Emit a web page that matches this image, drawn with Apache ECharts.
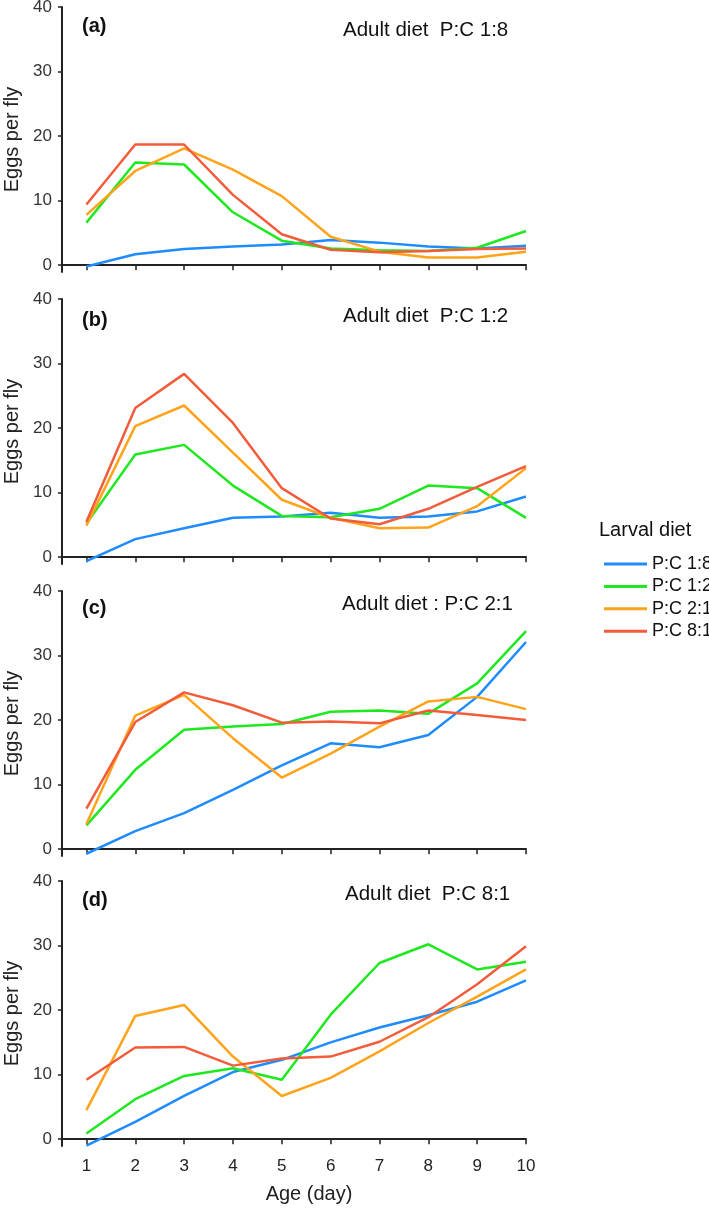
<!DOCTYPE html>
<html>
<head>
<meta charset="utf-8">
<script src="https://cdn.jsdelivr.net/npm/echarts@6/dist/echarts.min.js"></script>
<style>
html,body{margin:0;padding:0;background:#fff;}
#chart{width:709px;height:1208px;}
</style>
</head>
<body>
<div id="chart"></div>
<script>
const days = [1, 2, 3, 4, 5, 6, 7, 8, 9, 10];
const yTicks = [0, 10, 20, 30, 40];
const larvalDiets = ['P:C 1:8', 'P:C 1:2', 'P:C 2:1', 'P:C 8:1'];
const panelLabels = ['(a)', '(b)', '(c)', '(d)'];
const adultDiets = ['Adult diet  P:C 1:8', 'Adult diet  P:C 1:2', 'Adult diet : P:C 2:1', 'Adult diet  P:C 8:1'];

// Panel (a) adult diet P:C 1:8
const a_pc18 = [-0.2, 1.7, 2.5, 2.9, 3.2, 3.9, 3.5, 2.9, 2.6, 3.0];
const a_pc12 = [6.6, 15.9, 15.6, 8.2, 3.8, 2.6, 2.3, 2.2, 2.7, 5.3];
const a_pc21 = [7.8, 14.6, 18.1, 14.8, 10.7, 4.4, 2.1, 1.2, 1.2, 2.1];
const a_pc81 = [9.4, 18.7, 18.7, 10.9, 4.8, 2.4, 2.0, 2.2, 2.5, 2.6];
// Panel (b) adult diet P:C 1:2
const b_pc18 = [-0.6, 2.8, 4.5, 6.1, 6.3, 6.9, 6.1, 6.3, 7.1, 9.4];
const b_pc12 = [5.2, 15.9, 17.4, 11.1, 6.4, 6.2, 7.5, 11.1, 10.7, 6.1];
const b_pc21 = [4.9, 20.3, 23.5, 16.2, 8.9, 6.1, 4.5, 4.6, 7.9, 13.8];
const b_pc81 = [5.5, 23.1, 28.4, 20.8, 10.7, 6.0, 5.1, 7.5, 10.9, 14.1];
// Panel (c) adult diet P:C 2:1
const c_pc18 = [-0.7, 2.8, 5.6, 9.2, 13.0, 16.4, 15.8, 17.7, 23.6, 32.1];
const c_pc12 = [3.7, 12.3, 18.5, 19.0, 19.4, 21.3, 21.5, 21.0, 25.7, 33.8];
const c_pc21 = [3.9, 20.7, 23.9, 17.2, 11.1, 14.8, 19.0, 22.9, 23.6, 21.7];
const c_pc81 = [6.3, 19.7, 24.3, 22.3, 19.6, 19.8, 19.5, 21.5, 20.8, 20.0];
// Panel (d) adult diet P:C 8:1
const d_pc18 = [-1.0, 2.7, 6.7, 10.4, 12.3, 15.0, 17.3, 19.2, 21.3, 24.6];
const d_pc12 = [0.9, 6.2, 9.8, 11.0, 9.2, 19.3, 27.3, 30.2, 26.3, 27.5];
const d_pc21 = [4.5, 19.1, 20.8, 12.8, 6.7, 9.5, 13.6, 18.0, 22.1, 26.3];
const d_pc81 = [9.2, 14.2, 14.3, 11.4, 12.5, 12.8, 15.1, 18.9, 24.0, 29.9];

const panels = [
  [a_pc18, a_pc12, a_pc21, a_pc81],
  [b_pc18, b_pc12, b_pc21, b_pc81],
  [c_pc18, c_pc12, c_pc21, c_pc81],
  [d_pc18, d_pc12, d_pc21, d_pc81]
];

const colors = ['#1e8cff', '#1ee81e', '#ffa31a', '#f25c3a'];
const gridTops = [7, 299, 591, 881];
const gridH = 265, gridLeft = 62, gridW = 464;
const FONT = 'Liberation Sans, Arial, Helvetica, sans-serif';

const grids = [], xAxes = [], yAxes = [], series = [], graphics = [];
gridTops.forEach((top, i) => {
  grids.push({left: gridLeft, top: top, width: gridW, height: gridH, containLabel: false, outerBoundsMode: 'none'});
  const last = i === 3;
  xAxes.push({
    type: 'value', gridIndex: i, min: 0.5, max: 10,
    axisLine: {show: true, lineStyle: {color: '#222', width: 2}},
    axisTick: {show: true, customValues: days, length: 5, lineStyle: {color: '#222', width: 1.5}},
    axisLabel: {show: last, customValues: days, color: '#222', fontSize: 17, fontFamily: FONT, margin: 12},
    splitLine: {show: false},
    name: last ? 'Age (day)' : '', nameLocation: 'middle', nameGap: 38,
    nameTextStyle: {color: '#222', fontSize: 20, fontFamily: FONT, padding: [0, 0, 0, 30]}
  });
  yAxes.push({
    type: 'value', gridIndex: i, min: -1.05, max: 40,
    axisLine: {show: true, lineStyle: {color: '#222', width: 2}},
    axisTick: {show: true, customValues: yTicks, length: 4, lineStyle: {color: '#222', width: 1.5}},
    axisLabel: {customValues: yTicks, color: '#333', fontSize: 17, fontFamily: FONT, margin: 10},
    splitLine: {show: false},
    name: 'Eggs per fly', nameLocation: 'middle', nameGap: 38,
    nameTextStyle: {color: '#222', fontSize: 20, fontFamily: FONT}
  });
  panels[i].forEach((vals, k) => {
    series.push({
      type: 'line', name: larvalDiets[k], xAxisIndex: i, yAxisIndex: i,
      data: days.map((d, j) => [d, vals[j]]),
      showSymbol: false, symbol: 'none',
      lineStyle: {color: colors[k], width: 2.5},
      itemStyle: {color: colors[k]}
    });
  });
  const labelOffsets = [20, 22, 18, 20];
  const titleOffsets = [24, 18, 13.5, 13.5];
  const titleX = [343, 343, 342, 345];
  graphics.push({
    type: 'text', left: 82, top: top + labelOffsets[i] - 11,
    style: {text: panelLabels[i], font: 'bold 20px ' + FONT, fill: '#111'}
  });
  graphics.push({
    type: 'text', left: titleX[i], top: top + titleOffsets[i] - 11,
    style: {text: adultDiets[i], font: '20.5px ' + FONT, fill: '#111'}
  });
});

graphics.push({
  type: 'text', left: 599, top: 520,
  style: {text: 'Larval diet', font: '20px ' + FONT, fill: '#111'}
});

const chart = echarts.init(document.getElementById('chart'));
chart.setOption({
  animation: false,
  backgroundColor: '#fff',
  grid: grids,
  xAxis: xAxes,
  yAxis: yAxes,
  series: series,
  legend: {
    data: larvalDiets, orient: 'vertical', left: 599, top: 549,
    icon: 'rect', itemWidth: 43, itemHeight: 3, itemGap: 2.4,
    textStyle: {color: '#111', fontSize: 18, fontFamily: FONT, lineHeight: 20, padding: [0, 0, 0, 0]},
    selectedMode: false
  },
  graphic: graphics
});
</script>
</body>
</html>
